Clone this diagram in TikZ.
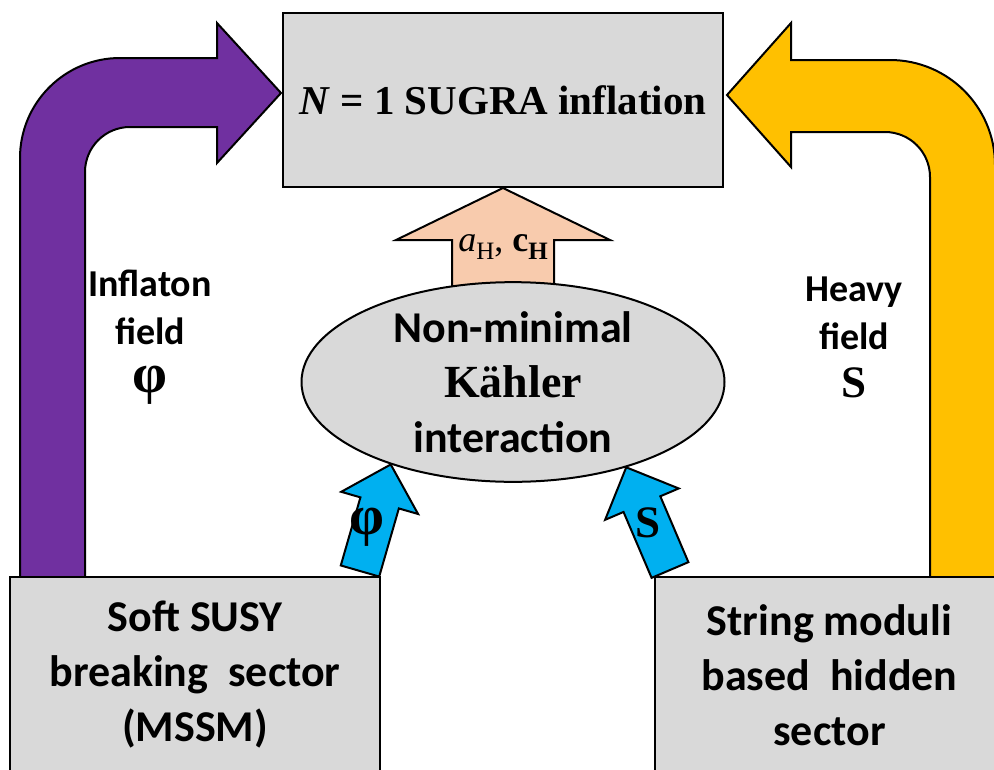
\documentclass[tikz,border=0pt]{standalone}
\usepackage{fontspec}
\setmainfont{Liberation Serif}
\setsansfont{Carlito}
\usepackage{tikz}
\usetikzlibrary{calc,shapes.geometric,backgrounds}

\definecolor{boxgray}{HTML}{D9D9D9}
\definecolor{infpurple}{HTML}{7030A0}
\definecolor{heavyyellow}{HTML}{FFC000}
\definecolor{kahlerpeach}{HTML}{F8CBAD}
\definecolor{fieldblue}{HTML}{00B0F0}

% block arrow: style, tail, tip, shaft half width, head half width, head length
\newcommand{\blockarrow}[6]{%
  \coordinate (ba) at ($(#3)!#6!(#2)$);
  \filldraw[#1] ($(#2)!#4!90:(#3)$) -- ($(ba)!#4!90:(#3)$) -- ($(ba)!#5!90:(#3)$) -- (#3)
    -- ($(ba)!#5!-90:(#3)$) -- ($(ba)!#4!-90:(#3)$) -- ($(#2)!#4!-90:(#3)$) -- cycle;
}
\newcommand{\fieldphi}{{\rmfamily\bfseries\fontsize{56}{56}\selectfont φ}}
\newcommand{\fieldS}{{\rmfamily\bfseries\fontsize{45}{48}\selectfont S}}
\newcommand{\subH}[1]{\raisebox{-8pt}{\fontsize{25}{25}\selectfont #1H}}

\tikzset{
  sector/.style={draw, fill=boxgray, line width=2pt, inner sep=0pt, align=center,
    font=\sffamily\bfseries\fontsize{44}{55}\selectfont},
  fieldlabel/.style={align=center, font=\sffamily\bfseries\fontsize{38}{48}\selectfont},
  arrowshape/.style={draw, line width=2pt, line join=miter}
}

\begin{document}
\begin{tikzpicture}[x=1pt,y=1pt]
	\useasboundingbox (0,0) rectangle (994,-769);

	\node[draw, fill=boxgray, line width=2pt, minimum width=440pt, minimum height=174pt,
		font=\rmfamily\bfseries\fontsize{41}{44}\selectfont] (sugra) at (503,-100) {\textit{N} = 1 SUGRA inflation};
	\node[ellipse, draw, fill=boxgray, line width=2pt, minimum width=423pt, minimum height=185pt,
		inner sep=0pt, align=center, font=\sffamily\bfseries\fontsize{44}{55}\selectfont] (kahler) at (513,-382)
		{Non-minimal\\{\rmfamily\bfseries\fontsize{46}{55}\selectfont Kähler}\\interaction};
	\node[sector, minimum width=370pt, minimum height=196pt] (soft) at (195,-675)
		{Soft SUSY\\breaking\ \ sector\\(MSSM)};
	\node[sector, minimum width=349pt, minimum height=196pt] (string) at (829.5,-675)
		{String moduli\\based\ \ hidden\\sector};

	\node[fieldlabel] (inflaton) at (150,-337) {Inflaton\\field\\\fieldphi};
	\node[fieldlabel] (heavy) at (854,-337) {Heavy\\field\\\fieldS};

	\coordinate (phitail) at (360,-571);
	\coordinate (stail) at (670,-570);
	\coordinate (atail) at ($(sugra.south |- kahler.north)+(0,-20)$);

	\begin{scope}[on background layer]
		% inflaton field
		\filldraw[arrowshape, fill=infpurple] (20,-600) -- (20,-158) arc[start angle=180, end angle=90, radius=100]
			-- (217,-58) -- (217,-23) -- ($(sugra.west)+(-1,7)$) -- (217,-163) -- (217,-127) -- (130,-127)
			arc[start angle=90, end angle=180, radius=45] -- (85,-600) -- cycle;
		% heavy field
		\filldraw[arrowshape, fill=heavyyellow] (930,-600) -- (930,-177) arc[start angle=0, end angle=90, radius=45]
			-- (791,-132) -- (791,-167) -- ($(sugra.east)+(3,5)$) -- (791,-23) -- (791,-60) -- (890,-60)
			arc[start angle=90, end angle=0, radius=105] -- (995,-600) -- cycle;
		\blockarrow{arrowshape, fill=fieldblue}{phitail}{kahler.214}{20pt}{40pt}{40pt}
		\blockarrow{arrowshape, fill=fieldblue}{stail}{kahler.-37}{20pt}{40pt}{40pt}
		\blockarrow{arrowshape, fill=kahlerpeach}{atail}{sugra.south}{51pt}{107pt}{52pt}
	\end{scope}

	\node[font=\rmfamily\fontsize{36}{38}\selectfont, inner sep=0pt] (acoef) at (503,-247)
		{\textit{a}\subH{}, \textbf{c}\subH{\bfseries}};
	\node[inner sep=0pt] (phiin) at (367,-527) {\fieldphi};
	\node[inner sep=0pt] (sin) at (648,-523) {\fieldS};
\end{tikzpicture}
\end{document}
